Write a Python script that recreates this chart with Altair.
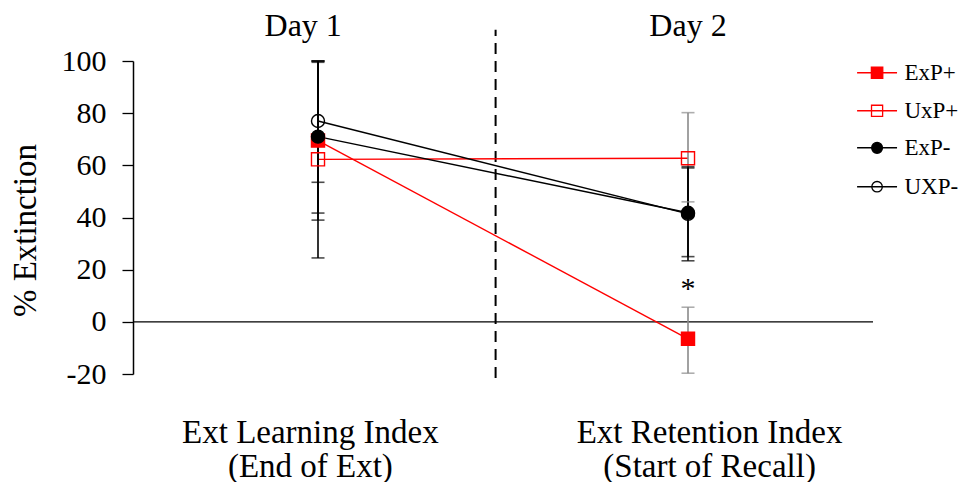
import altair as alt
import pandas as pd

# ---- data ----
series = ["ExP+", "UxP+", "ExP-", "UXP-"]
day1_mean = [69.5, 62.3, 71.0, 77.0]
day1_lower = [39.0, 24.5, 41.7, 53.5]
day1_upper = [100.0, 99.5, 100.0, 100.0]
day2_mean = [-6.5, 62.7, 41.8, 41.4]
day2_lower = [-19.7, 46.0, 25.0, 23.4]
day2_upper = [5.6, 80.2, 59.0, 59.5]
x_positions = [1, 2]
x_label_pos = [0.978, 2.057]
x_label_lines = [["Ext Learning Index", "(End of Ext)"],
                 ["Ext Retention Index", "(Start of Recall)"]]
day_labels = ["Day 1", "Day 2"]
day_label_x = [0.96, 2.0]
y_ticks = [-20, 0, 20, 40, 60, 80, 100]
asterisk = {"x": 2, "y": 12.5, "text": "*"}
divider = {"x": 1.48, "y": -21.5, "y2": 112}

# ---- styles ----
line_colors = ["#ff0000", "#ff0000", "#000000", "#000000"]
day2_err_colors = ["#8a8a8a", "#8a8a8a", "#000000", "#000000"]
fill_colors = ["#ff0000", "transparent", "#000000", "transparent"]
shapes = ["square", "square", "circle", "circle"]
legend_line_colors = ["#ff0000", "#ff5050", "#9a9a9a", "#000000"]
FONT = "Liberation Serif"

rows = []
for i, s in enumerate(series):
    rows.append(dict(series=s, x=x_positions[0], mean=day1_mean[i], lo=day1_lower[i], hi=day1_upper[i],
                     ecol="#000000", order=i))
    rows.append(dict(series=s, x=x_positions[1], mean=day2_mean[i], lo=day2_lower[i], hi=day2_upper[i],
                     ecol=day2_err_colors[i], order=i))
df = pd.DataFrame(rows)

xscale = alt.Scale(domain=[0.5, 2.5], nice=False, zero=False)
yscale = alt.Scale(domain=[-20, 100], nice=False, zero=False)

expr = "datum.value < 1.5 ? {} : {}".format(
    "[" + ",".join("'" + t + "'" for t in x_label_lines[0]) + "]",
    "[" + ",".join("'" + t + "'" for t in x_label_lines[1]) + "]",
)

xaxis = alt.Axis(values=x_label_pos, labelExpr=expr, domain=False, ticks=False, grid=False,
                 title=None, labelFontSize=33, labelLimit=600,
                 labelPadding=58, labelLineHeight=34, labelBaseline="middle")
yaxis = alt.Axis(values=y_ticks, grid=False, title="% Extinction", labelExpr="'' + datum.value",
                 titleFontSize=33, titleFontWeight="normal",
                 titlePadding=19, titleY=169, labelFontSize=30,
                 labelPadding=16, tickSize=11, domainWidth=1.5, tickWidth=1.3)

base = alt.Chart(df)

zero_rule = alt.Chart(pd.DataFrame({"y": [0]})).mark_rule(color="#000", strokeWidth=1.3).encode(
    y=alt.Y("y:Q", scale=yscale, axis=yaxis))

div_rule = alt.Chart(pd.DataFrame([divider])).mark_rule(color="#000", strokeWidth=2, strokeDash=[11, 7]).encode(
    x=alt.X("x:Q", scale=xscale, axis=xaxis), y=alt.Y("y:Q", scale=yscale, axis=yaxis), y2="y2:Q")

lines = base.mark_line(strokeWidth=1.4).encode(
    x=alt.X("x:Q", scale=xscale, axis=xaxis),
    y=alt.Y("mean:Q", scale=yscale, axis=yaxis),
    detail="series:N",
    stroke=alt.Stroke("series:N", scale=alt.Scale(domain=series, range=line_colors), legend=None),
)

err = base.mark_rule(strokeWidth=1.6).encode(
    x=alt.X("x:Q", scale=xscale, axis=xaxis),
    y=alt.Y("lo:Q", scale=yscale, axis=yaxis), y2="hi:Q",
    stroke=alt.Stroke("ecol:N", scale=None),
    order="order:Q",
)
caps_lo = base.mark_tick(orient="horizontal", size=13, thickness=1.6).encode(
    x=alt.X("x:Q", scale=xscale, axis=xaxis), y=alt.Y("lo:Q", scale=yscale, axis=yaxis),
    color=alt.Color("ecol:N", scale=None),
    order="order:Q",
)
caps_hi = base.mark_tick(orient="horizontal", size=13, thickness=1.6).encode(
    x=alt.X("x:Q", scale=xscale, axis=xaxis), y=alt.Y("hi:Q", scale=yscale, axis=yaxis),
    color=alt.Color("ecol:N", scale=None),
    order="order:Q",
)

points = base.mark_point(size=170, strokeWidth=1.4, opacity=1).encode(
    x=alt.X("x:Q", scale=xscale, axis=xaxis),
    y=alt.Y("mean:Q", scale=yscale, axis=yaxis),
    shape=alt.Shape("series:N", scale=alt.Scale(domain=series, range=shapes), legend=None),
    stroke=alt.Stroke("series:N", scale=alt.Scale(domain=series, range=line_colors), legend=None),
    fill=alt.Fill("series:N", scale=alt.Scale(domain=series, range=fill_colors), legend=None),
)

day_text = alt.Chart(pd.DataFrame({"x": day_label_x, "t": day_labels, "y": [113.5, 113.5]})).mark_text(
    font=FONT, fontSize=32, color="#000", baseline="middle").encode(
    x=alt.X("x:Q", scale=xscale, axis=xaxis), y=alt.Y("y:Q", scale=yscale, axis=yaxis), text="t:N")

star = alt.Chart(pd.DataFrame([asterisk])).mark_text(font=FONT, fontSize=30, color="#000", baseline="middle").encode(
    x=alt.X("x:Q", scale=xscale, axis=xaxis), y=alt.Y("y:Q", scale=yscale, axis=yaxis), text="text:N")

# ---- legend built in the chart's own coordinates ----
legend_df = pd.DataFrame({
    "series": series,
    "x1": [2.457] * 4, "x2": [2.565] * 4, "xm": [2.511] * 4, "xt": [2.585] * 4,
    "y": [95.5, 80.9, 66.7, 51.8],
})
lbase = alt.Chart(legend_df)
leg_lines = lbase.mark_rule(strokeWidth=1.5).encode(
    x=alt.X("x1:Q", scale=xscale, axis=xaxis), x2="x2:Q", y=alt.Y("y:Q", scale=yscale, axis=yaxis),
    stroke=alt.Stroke("series:N", scale=alt.Scale(domain=series, range=legend_line_colors), legend=None))
leg_pts = lbase.mark_point(strokeWidth=1.3, opacity=1).encode(
    x=alt.X("xm:Q", scale=xscale, axis=xaxis), y=alt.Y("y:Q", scale=yscale, axis=yaxis),
    shape=alt.Shape("series:N", scale=alt.Scale(domain=series, range=shapes), legend=None),
    stroke=alt.Stroke("series:N", scale=alt.Scale(domain=series, range=line_colors), legend=None),
    fill=alt.Fill("series:N", scale=alt.Scale(domain=series, range=fill_colors), legend=None),
    size=alt.Size("series:N", scale=alt.Scale(domain=series, range=[130, 110, 120, 70]), legend=None))
leg_text = lbase.mark_text(font=FONT, fontSize=23, color="#000", align="left", baseline="middle").encode(
    x=alt.X("xt:Q", scale=xscale, axis=xaxis), y=alt.Y("y:Q", scale=yscale, axis=yaxis), text="series:N")

chart = alt.layer(
    zero_rule, div_rule, lines, err, caps_lo, caps_hi, points, day_text, star,
    leg_lines, leg_pts, leg_text,
).properties(
    width=740, height=313,
    autosize=alt.AutoSizeParams(type="none"),
    padding={"left": 125, "top": 53, "right": 88, "bottom": 108},
).configure(
    background="white", font=FONT
).configure_view(
    stroke=None
).configure_axis(
    labelFont=FONT, titleFont=FONT, labelColor="#000", titleColor="#000",
    domainColor="#000", tickColor="#000"
)

chart.save("out.html", embed_options={"renderer": "svg", "actions": False})
